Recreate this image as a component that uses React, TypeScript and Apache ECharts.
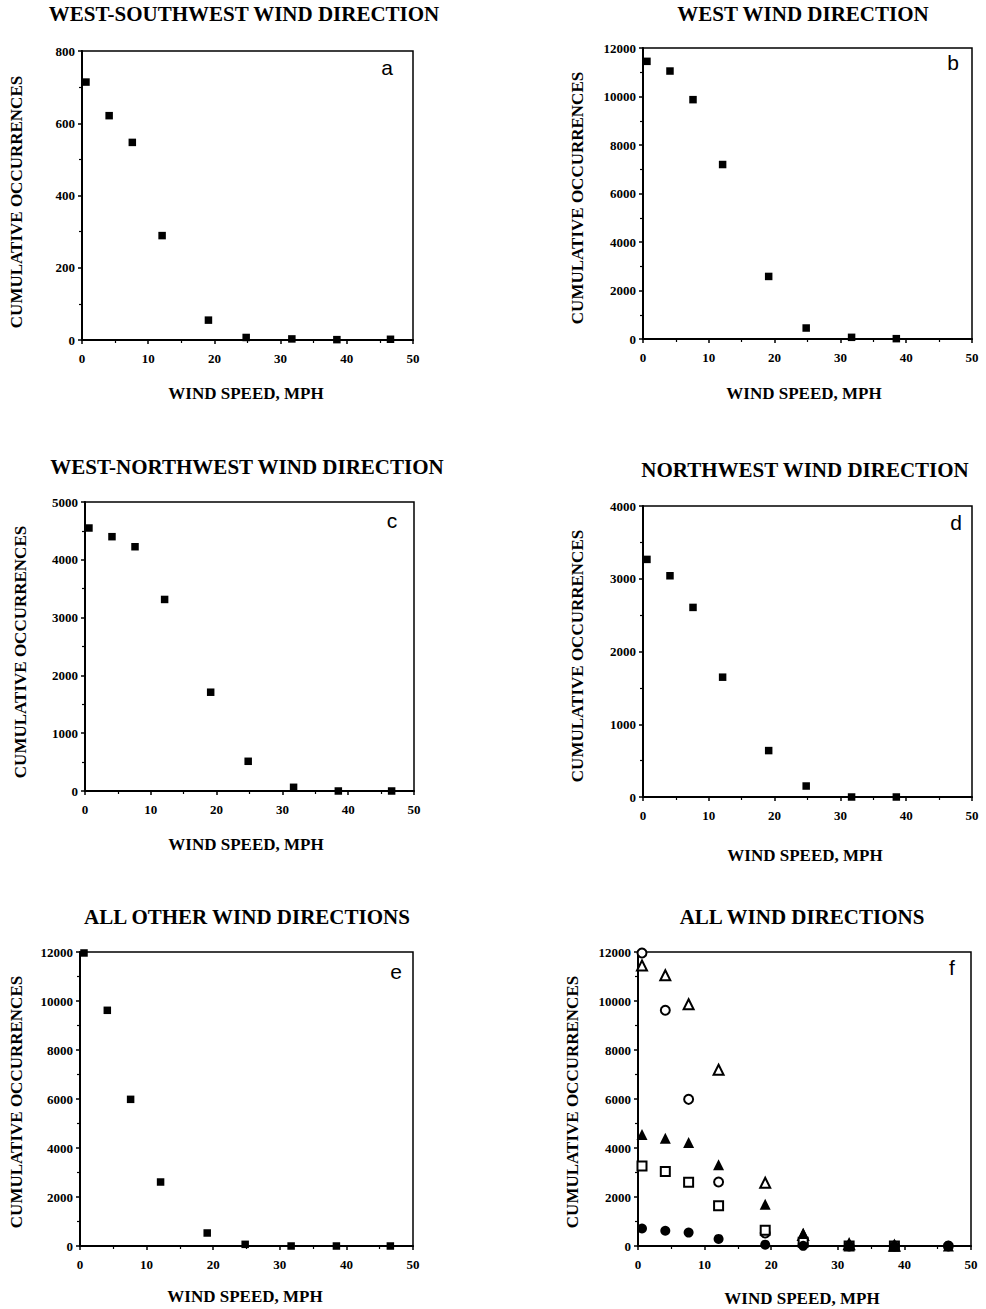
import React, { useEffect, useRef } from "react";
import * as echarts from "echarts";

// Wind speed bin positions (mph)
const speeds = [0.6, 4.1, 7.6, 12.1, 19.1, 24.8, 31.7, 38.5, 46.6];

// Cumulative occurrences per direction
const wswValues = [714, 621, 547, 289, 55, 7, 3, 1, 2];
const westValues = [11450, 11050, 9870, 7195, 2580, 453, 69, 14];
const wnwValues = [4550, 4400, 4226, 3314, 1709, 514, 64, 0, 0];
const nwValues = [3266, 3041, 2606, 1647, 638, 151, 0, 0];
const otherValues = [11960, 9620, 5986, 2612, 531, 68, 0, 0, 0];

const panelTitles = [
  "WEST-SOUTHWEST WIND DIRECTION",
  "WEST WIND DIRECTION",
  "WEST-NORTHWEST WIND DIRECTION",
  "NORTHWEST WIND DIRECTION",
  "ALL OTHER WIND DIRECTIONS",
  "ALL WIND DIRECTIONS",
];
const panelLetters = ["a", "b", "c", "d", "e", "f"];
const yMaxes = [800, 12000, 5000, 4000, 12000, 12000];
const yIntervals = [200, 2000, 1000, 1000, 2000, 2000];
const xTitle = "WIND SPEED, MPH";
const yTitle = "CUMULATIVE OCCURRENCES";

// layout (page pixels)
const grids = [
  { left: 82, top: 51, width: 331, height: 289 },
  { left: 643, top: 48, width: 329, height: 291 },
  { left: 85, top: 502, width: 329, height: 289 },
  { left: 643, top: 506, width: 329, height: 291 },
  { left: 80, top: 952, width: 333, height: 294 },
  { left: 638, top: 952, width: 333, height: 294 },
];
const titlePos = [
  [244, 14], [803, 14], [247, 467], [805, 470], [247, 917], [802, 917],
];
const xTitlePos = [
  [246, 393], [804, 393], [246, 844], [805, 855], [245, 1296], [802, 1298],
];
const yTitlePos = [
  [16, 202], [577, 198], [20, 652], [577, 656], [16, 1102], [572, 1102],
];
const letterPos = [
  [387, 67], [953, 62], [392, 520], [956, 522], [396, 971], [952, 967],
];

const SERIF = "'Liberation Serif', 'DejaVu Serif', serif";
const SANS = "'Liberation Sans', Arial, sans-serif";

function pairs(vals: number[]) {
  return vals.map((v, i) => [speeds[i], v]);
}

export default function App() {
  const ref = useRef<HTMLDivElement>(null);
  useEffect(() => {
    document.body.style.margin = "0";
    if (!ref.current) return;
    const chart = echarts.init(ref.current, undefined, { renderer: "svg" });

    const axisCommon = {
      type: "value",
      axisLine: { onZero: false, lineStyle: { color: "#000", width: 2 } },
      axisTick: { show: true, inside: false, length: 4, lineStyle: { color: "#000", width: 1.5 } },
      minorTick: { show: true, splitNumber: 2, length: 3, lineStyle: { color: "#000", width: 1.2 } },
      splitLine: { show: false },
    };
    const xAxes = grids.map((_, i) => ({
      ...axisCommon,
      gridIndex: i,
      min: 0,
      max: 50,
      interval: 10,
      axisLabel: {
        color: "#000", fontFamily: SERIF, fontWeight: "bold", fontSize: 13, margin: 12,
        formatter: (v: number) => String(v),
      },
    }));
    const yAxes = grids.map((_, i) => ({
      ...axisCommon,
      gridIndex: i,
      min: 0,
      max: yMaxes[i],
      interval: yIntervals[i],
      axisLabel: {
        color: "#000", fontFamily: SERIF, fontWeight: "bold", fontSize: 13, margin: 7,
        formatter: (v: number) => String(v),
      },
    }));

    const single = [wswValues, westValues, wnwValues, nwValues, otherValues];
    const series: any[] = single.map((vals, i) => ({
      type: "scatter",
      xAxisIndex: i,
      yAxisIndex: i,
      data: pairs(vals),
      symbol: "rect",
      symbolSize: 7.5,
      itemStyle: { color: "#000", opacity: 1 },
    }));

    const openStyle = { color: "#fff", borderColor: "#000", borderWidth: 2, opacity: 1 };
    const filled = { color: "#000", opacity: 1 };
    const fSeries = [
      { vals: otherValues, symbol: "circle", size: 9, style: openStyle, z: 2 },
      { vals: westValues, symbol: "triangle", size: 10, style: openStyle, z: 2 },
      { vals: nwValues, symbol: "rect", size: 9, style: openStyle, z: 2 },
      { vals: wnwValues, symbol: "triangle", size: 11, style: filled, z: 3 },
      { vals: wswValues, symbol: "circle", size: 10, style: filled, z: 3 },
    ];
    fSeries.forEach((s) => {
      series.push({
        type: "scatter",
        xAxisIndex: 5,
        yAxisIndex: 5,
        data: pairs(s.vals),
        symbol: s.symbol,
        symbolSize: s.size,
        itemStyle: s.style,
        z: s.z,
      });
    });

    const graphics: any[] = [];
    const txt = (x: number, y: number, text: string, fontSize: number, family: string, bold: boolean, rotation = 0) => ({
      type: "text",
      x,
      y,
      rotation,
      style: {
        text,
        fontFamily: family,
        fontWeight: bold ? "bold" : "normal",
        fontSize,
        fill: "#000",
        align: "center",
        verticalAlign: "middle",
      },
    });
    panelTitles.forEach((t, i) => {
      graphics.push(txt(titlePos[i][0], titlePos[i][1], t, 21, SERIF, true));
      graphics.push(txt(xTitlePos[i][0], xTitlePos[i][1], xTitle, 17, SERIF, true));
      graphics.push(txt(yTitlePos[i][0], yTitlePos[i][1], yTitle, 17, SERIF, true, Math.PI / 2));
      graphics.push(txt(letterPos[i][0], letterPos[i][1], panelLetters[i], 21, SANS, false));
    });

    chart.setOption({
      animation: false,
      backgroundColor: "#fff",
      grid: grids.map((g) => ({
        ...g,
        show: true,
        borderColor: "#000",
        borderWidth: 1.5,
        backgroundColor: "transparent",
        containLabel: false,
      })),
      xAxis: xAxes,
      yAxis: yAxes,
      series,
      graphic: graphics,
    });
    return () => chart.dispose();
  }, []);
  return <div ref={ref} style={{ width: 986, height: 1309 }} />;
}
